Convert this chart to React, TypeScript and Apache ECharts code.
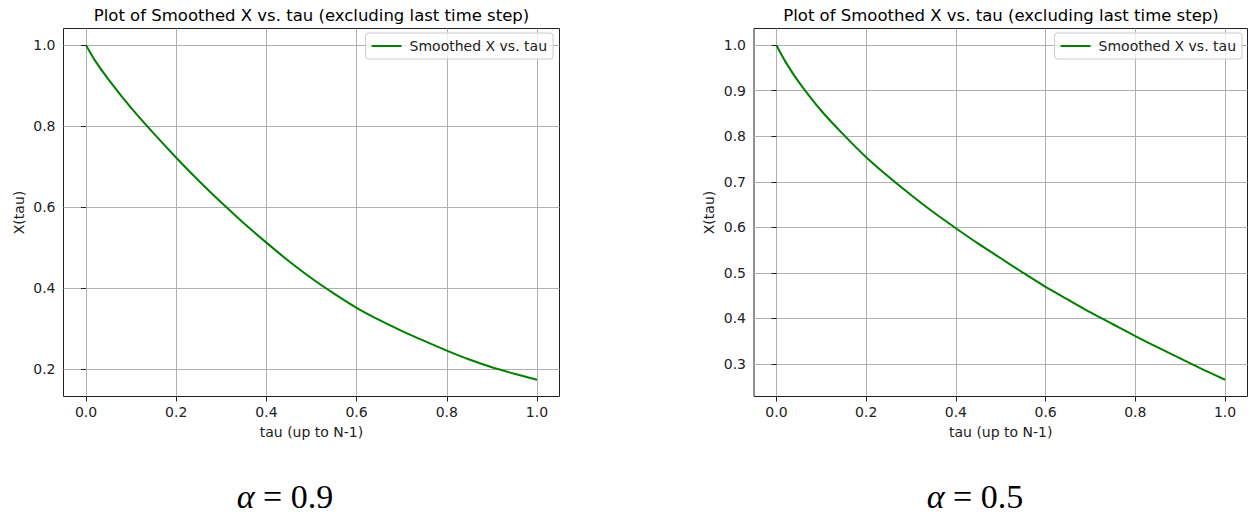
import React, { useEffect, useRef } from "react";
import * as echarts from "echarts";

const TITLE = "Plot of Smoothed X vs. tau (excluding last time step)";
const SERIES_NAME = "Smoothed X vs. tau";
const X_NAME = "tau (up to N-1)";
const Y_NAME = "X(tau)";

const taus = [0, 0.02, 0.05, 0.1, 0.15, 0.2, 0.25, 0.3, 0.35, 0.4, 0.45, 0.5, 0.55, 0.6, 0.65, 0.7, 0.75, 0.8, 0.85, 0.9, 0.95, 1.0];
const xAlpha09 = [1.0, 0.962, 0.915, 0.845, 0.782, 0.722, 0.665, 0.611, 0.56, 0.512, 0.466, 0.424, 0.386, 0.351, 0.321, 0.294, 0.269, 0.245, 0.223, 0.204, 0.188, 0.173];
const xAlpha05 = [1.0, 0.964, 0.919, 0.856, 0.803, 0.754, 0.711, 0.671, 0.633, 0.598, 0.564, 0.532, 0.5, 0.469, 0.441, 0.413, 0.387, 0.361, 0.336, 0.312, 0.288, 0.265];

const xTicks = [0, 0.2, 0.4, 0.6, 0.8, 1.0];
const yTicksLeft = [0.2, 0.4, 0.6, 0.8, 1.0];
const yTicksRight = [0.3, 0.4, 0.5, 0.6, 0.7, 0.8, 0.9, 1.0];
const captions = ["0.9", "0.5"];

const FONT = "DejaVu Sans";
const GREEN = "#008000";
const INK = "#222222";
const FS = 14;

function extent(vals: number[]) {
  const lo = Math.min(...vals);
  const hi = Math.max(...vals);
  const m = (hi - lo) * 0.05;
  return [lo - m, hi + m];
}

export default function App() {
  const ref = useRef<HTMLDivElement>(null);
  useEffect(() => {
    if (!ref.current) return;
    const chart = echarts.init(ref.current, null, { renderer: "svg" });
    const xr = extent(taus);
    const yl = extent(xAlpha09);
    const yr = extent(xAlpha05);
    const grids = [
      { left: 63.5, top: 28.5, width: 496, height: 368 },
      { left: 754, top: 28.5, width: 493.5, height: 368 },
    ];
    const mkX = (i: number) => ({
      type: "value",
      gridIndex: i,
      min: xr[0],
      max: xr[1],
      axisLine: { show: false },
      axisTick: { show: true, length: 5, inside: false, customValues: xTicks, lineStyle: { color: INK, width: 1 } },
      axisLabel: {
        customValues: xTicks,
        margin: 8,
        color: INK,
        fontSize: FS,
        fontFamily: FONT,
        formatter: (v: number) => v.toFixed(1),
      },
      splitLine: { show: true, lineStyle: { color: "#b0b0b0", width: 1 } },
      name: X_NAME,
      nameLocation: "middle",
      nameGap: 28,
      nameTextStyle: { color: INK, fontSize: FS, fontFamily: FONT },
    });
    const mkY = (i: number, r: number[], ticks: number[]) => ({
      type: "value",
      gridIndex: i,
      min: r[0],
      max: r[1],
      axisLine: { show: false },
      axisTick: { show: true, length: 5, inside: false, customValues: ticks, lineStyle: { color: INK, width: 1 } },
      axisLabel: {
        customValues: ticks,
        margin: 8,
        color: INK,
        fontSize: FS,
        fontFamily: FONT,
        formatter: (v: number) => v.toFixed(1),
      },
      splitLine: { show: true, lineStyle: { color: "#b0b0b0", width: 1 } },
      name: Y_NAME,
      nameLocation: "middle",
      nameGap: 38,
      nameTextStyle: { color: INK, fontSize: FS, fontFamily: FONT },
    });
    const mkLegend = (right: number) => ({
      show: true,
      right,
      top: 33,
      orient: "vertical",
      data: [{ name: SERIES_NAME, icon: "rect" }],
      itemWidth: 30,
      itemHeight: 2,
      padding: [6, 6, 6, 6],
      backgroundColor: "rgba(255,255,255,0.8)",
      borderColor: "#cccccc",
      borderWidth: 1,
      borderRadius: 3,
      selectedMode: false,
      textStyle: { color: INK, fontSize: FS, fontFamily: FONT, padding: [0, 0, 0, 3] },
    });
    const caption = (cx: number, val: string) => ({
      type: "text",
      x: cx,
      y: 496,
      style: {
        text: "{a|α} = " + val,
        rich: {
          a: { fontStyle: "italic", fontSize: 34, fontFamily: "Liberation Serif", fill: "#000" },
        },
        font: '34px "Liberation Serif"',
        fill: "#000",
        align: "center",
        verticalAlign: "middle",
        textAlign: "center",
        textVerticalAlign: "middle",
      },
    });
    const titleText = (cx: number) => ({
      type: "text",
      x: cx,
      y: 15,
      style: {
        text: TITLE,
        font: '16.5px "DejaVu Sans"',
        fill: "#000",
        align: "center",
        verticalAlign: "middle",
        textAlign: "center",
        textVerticalAlign: "middle",
      },
    });
    chart.setOption({
      animation: false,
      grid: grids.map((g) => ({ ...g, show: true, borderColor: INK, borderWidth: 1, backgroundColor: "#fff" })),
      xAxis: [mkX(0), mkX(1)],
      yAxis: [mkY(0, yl, yTicksLeft), mkY(1, yr, yTicksRight)],
      legend: [mkLegend(1249 - 553), mkLegend(7)],
      series: [
        {
          name: SERIES_NAME,
          type: "line",
          xAxisIndex: 0,
          yAxisIndex: 0,
          data: taus.map((t, k) => [t, xAlpha09[k]]),
          showSymbol: false,
          smooth: 0.25,
          color: GREEN,
          lineStyle: { color: GREEN, width: 2 },
        },
        {
          name: SERIES_NAME,
          type: "line",
          xAxisIndex: 1,
          yAxisIndex: 1,
          data: taus.map((t, k) => [t, xAlpha05[k]]),
          showSymbol: false,
          smooth: 0.25,
          color: GREEN,
          lineStyle: { color: GREEN, width: 2 },
        },
      ],
      graphic: [
        titleText(311.5),
        titleText(1001),
        caption(285, captions[0]),
        caption(975, captions[1]),
      ],
    });
    return () => chart.dispose();
  }, []);
  return (
    <div
      ref={ref}
      style={{ position: "fixed", left: 0, top: 0, width: 1249, height: 515, background: "#fff" }}
    />
  );
}
